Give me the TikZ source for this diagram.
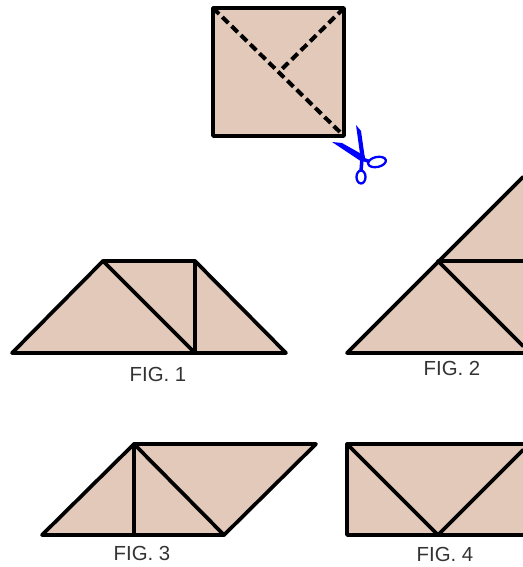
\documentclass[tikz,border=0pt]{standalone}
\usepackage{fontspec}
\setmainfont{Liberation Sans}
\usepackage{xcolor}
\definecolor{PaperTan}{HTML}{E3C9BA}
\definecolor{LabelGrey}{HTML}{333333}
\tikzset{
	piece/.style = {fill = PaperTan, draw = none},
	edge/.style = {draw = black, line width = 2.1pt, line join = round, line cap = round},
	cutline/.style = {draw = black, line width = 2.3pt, dash pattern = on 0.17cm off 0.09cm},
	figlabel/.style = {font = \fontsize{11.6pt}{12pt}\selectfont, text = LabelGrey, inner sep = 0pt},
	blade/.style = {fill = blue, draw = none},
	handle/.style = {draw = blue, line width = 1.3pt, fill = white}
}

\begin{document}
\begin{tikzpicture}[x = 0.02cm, y = -0.02cm]
	\path [use as bounding box, draw = none] (0, 0) rectangle (523, 567);

	% square with the cuts
	\fill[piece] (213, 8) rectangle (344, 136);
	\draw[edge] (213, 8) rectangle (344, 136);
	\draw[cutline] (213, 8) -- (344, 136);
	\draw[cutline] (344, 8) -- (281, 70);

	% scissors
	\fill[blade] (356, 125) -- (361, 131) -- (365, 159) -- (361, 161) -- cycle;
	\fill[blade] (332, 142) -- (342, 143) -- (365, 156) -- (362, 162) -- cycle;
	\draw[blue, line width = 2pt] (362, 159) -- (371, 162);
	\draw[blue, line width = 2pt] (362, 159) -- (361, 171);
	\draw[handle, rotate around = {12:(377, 162)}] (377, 162) ellipse (9 and 5);
	\draw[handle] (361, 177) ellipse (4.5 and 6.5);

	% fig 1
	\fill[piece] (12, 353) -- (103, 261) -- (195, 261) -- (286, 353) -- cycle;
	\draw[edge] (12, 353) -- (103, 261) -- (195, 261) -- (286, 353) -- cycle;
	\draw[edge] (103, 261) -- (195, 353) -- (195, 261);
	\node[figlabel] (figone) at (158, 374) {FIG. 1};

	% fig 2, runs off the right side
	\fill[piece] (347, 353) -- (523, 177) -- (523, 353) -- cycle;
	\draw[edge] (523, 353) -- (347, 353) -- (523, 177);
	\draw[edge] (523, 261) -- (438, 261) -- (523, 346);
	\node[figlabel] (figtwo) at (452, 368) {FIG. 2};

	% fig 3
	\fill[piece] (42, 535) -- (134, 444) -- (316, 444) -- (224, 535) -- cycle;
	\draw[edge] (42, 535) -- (134, 444) -- (316, 444) -- (224, 535) -- cycle;
	\draw[edge] (134, 535) -- (134, 444) -- (224, 535);
	\node[figlabel] (figthree) at (142, 553) {FIG. 3};

	% fig 4, runs off the right side
	\fill[piece] (347, 444) rectangle (523, 535);
	\draw[edge] (523, 444) -- (347, 444) -- (347, 535) -- (523, 535);
	\draw[edge] (347, 444) -- (438, 535) -- (523, 450);
	\node[figlabel] (figfour) at (445, 554) {FIG. 4};
\end{tikzpicture}
\end{document}
